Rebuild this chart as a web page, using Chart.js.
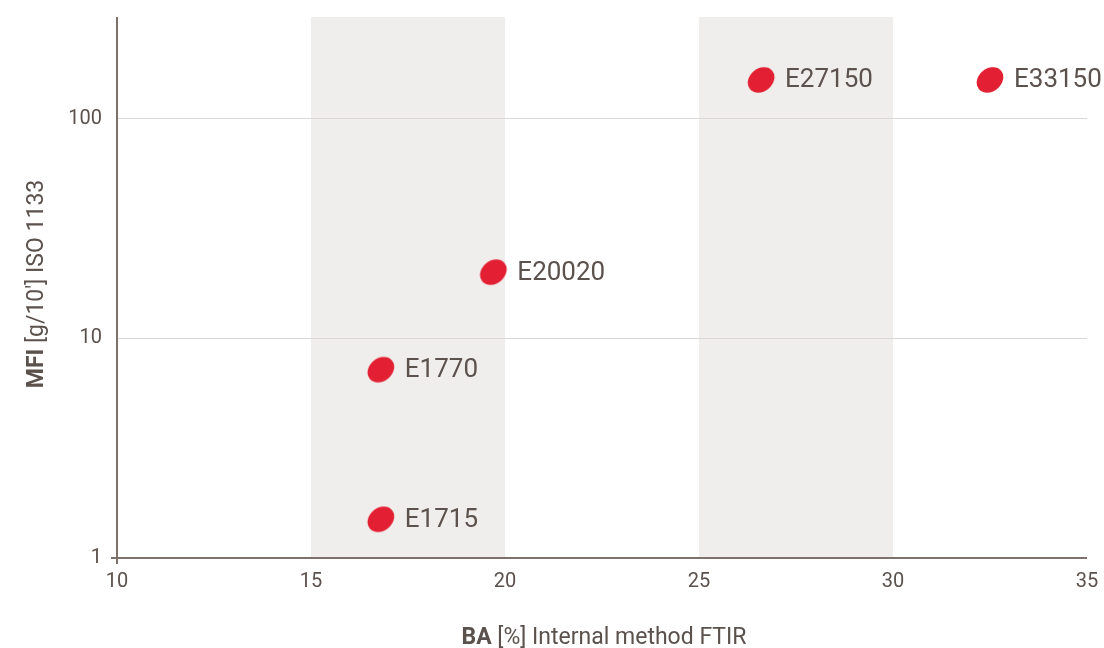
<!DOCTYPE html>
<html>
<head>
<meta charset="utf-8">
<script src="https://cdn.jsdelivr.net/npm/chart.js@4"></script>
<style>
  html, body { margin: 0; padding: 0; background: #fff; }
  #wrap { width: 1104px; height: 648px; }
</style>
</head>
<body>
<div id="wrap"><canvas id="mfiChart" width="1104" height="648"></canvas></div>
<script>
const grades = ['E1715', 'E1770', 'E20020', 'E27150', 'E33150'];
const baValues = [16.8, 16.8, 19.7, 26.6, 32.5];
const mfiValues = [1.5, 7.2, 20, 150, 150];
const xTicks = [10, 15, 20, 25, 30, 35];
const yTicks = [1, 10, 100];
const bands = [[15, 20], [25, 30]];

const textColor = '#5b514d';
const axisColor = '#7d716c';
const fontFamily = 'Roboto, "DejaVu Sans", sans-serif';

// tilted ellipse used as the marker
const dot = document.createElement('canvas');
dot.width = 32; dot.height = 32;
(function () {
  const c = dot.getContext('2d');
  c.translate(16, 16);
  c.rotate(-0.7);
  c.beginPath();
  c.ellipse(0, 0, 14.5, 11.5, 0, 0, Math.PI * 2);
  c.fillStyle = '#e31f33';
  c.fill();
})();

const chartExtras = {
  id: 'chartExtras',
  beforeDraw(chart) {
    const { ctx, chartArea, scales } = chart;
    ctx.save();
    ctx.fillStyle = '#f0eeec';
    bands.forEach(([a, b]) => {
      const x1 = scales.x.getPixelForValue(a);
      const x2 = scales.x.getPixelForValue(b);
      ctx.fillRect(x1, chartArea.top, x2 - x1, chartArea.bottom - chartArea.top);
    });
    ctx.restore();
  },
  beforeDatasetsDraw(chart) {
    const { ctx, chartArea } = chart;
    ctx.save();
    ctx.strokeStyle = axisColor;
    ctx.lineWidth = 2;
    ctx.beginPath();
    ctx.moveTo(chartArea.left, chartArea.top);
    ctx.lineTo(chartArea.left, chartArea.bottom + 6);
    ctx.moveTo(chartArea.left - 6, chartArea.bottom);
    ctx.lineTo(chartArea.right, chartArea.bottom);
    ctx.stroke();
    ctx.restore();
  },
  afterDraw(chart) {
    const { ctx } = chart;
    ctx.save();
    // point labels
    const meta = chart.getDatasetMeta(0);
    ctx.fillStyle = textColor;
    ctx.font = '26px ' + fontFamily;
    ctx.textBaseline = 'middle';
    ctx.textAlign = 'left';
    meta.data.forEach((pt, i) => {
      ctx.fillText(grades[i], pt.x + 24, pt.y + 1);
    });

    // axis titles with bold lead words
    const drawTitle = (bold, rest, cx, cy, rot) => {
      ctx.save();
      ctx.translate(cx, cy);
      ctx.rotate(rot);
      ctx.font = 'bold 23px ' + fontFamily;
      const w1 = ctx.measureText(bold).width;
      ctx.font = '23px ' + fontFamily;
      const w2 = ctx.measureText(rest).width;
      const x = -(w1 + w2) / 2;
      ctx.textAlign = 'left';
      ctx.textBaseline = 'alphabetic';
      ctx.font = 'bold 23px ' + fontFamily;
      ctx.fillText(bold, x, 0);
      ctx.font = '23px ' + fontFamily;
      ctx.fillText(rest, x + w1, 0);
      ctx.restore();
    };
    drawTitle('BA', ' [%] Internal method FTIR', 604, 644, 0);
    drawTitle('MFI', " [g/10'] ISO 1133", 43, 284, -Math.PI / 2);
    ctx.restore();
  }
};

new Chart(document.getElementById('mfiChart'), {
  type: 'scatter',
  data: {
    datasets: [{
      label: 'MFI',
      data: baValues.map((v, i) => ({ x: v, y: mfiValues[i] })),
      pointStyle: dot,
      pointRadius: 16,
      pointHoverRadius: 16
    }]
  },
  options: {
    responsive: false,
    animation: false,
    layout: { padding: { top: 15, right: 14, left: 0, bottom: 0 } },
    plugins: {
      legend: { display: false },
      tooltip: { enabled: false }
    },
    scales: {
      x: {
        type: 'linear',
        min: 10,
        max: 35,
        afterBuildTicks(scale) { scale.ticks = xTicks.map(v => ({ value: v })); },
        afterFit(scale) {
          scale.height = 90;
          scale.paddingLeft = 0;
          scale.paddingRight = 0;
        },
        grid: { display: false, drawTicks: false },
        border: { display: false },
        ticks: {
          color: textColor,
          font: { family: fontFamily, size: 20 },
          padding: 12,
          maxRotation: 0
        }
      },
      y: {
        type: 'logarithmic',
        min: 1,
        max: 290,
        afterBuildTicks(scale) { scale.ticks = yTicks.map(v => ({ value: v })); },
        afterFit(scale) {
          scale.width = 117;
          scale.paddingTop = 0;
          scale.paddingBottom = 0;
        },
        grid: {
          drawTicks: false,
          color: ctx => (ctx.tick && ctx.tick.value === 1 ? 'rgba(0,0,0,0)' : '#dad7d5'),
          lineWidth: 1
        },
        border: { display: false },
        ticks: {
          color: textColor,
          font: { family: fontFamily, size: 20 },
          padding: 15,
          callback: v => String(v)
        }
      }
    }
  },
  plugins: [chartExtras]
});
</script>
</body>
</html>
